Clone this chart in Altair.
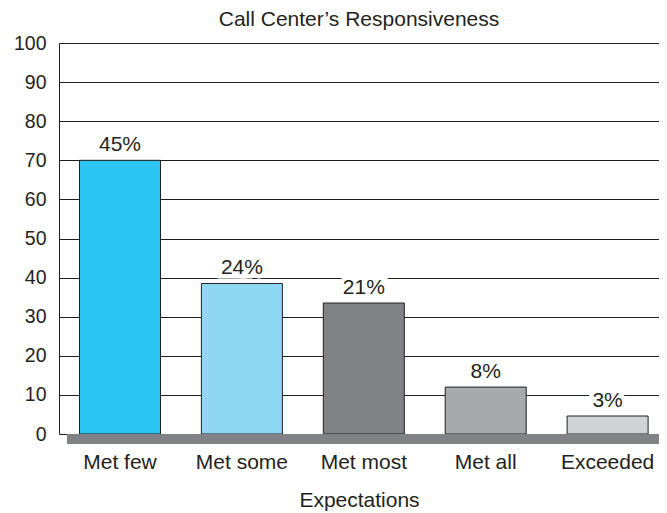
import altair as alt
import pandas as pd

categories = ["Met few", "Met some", "Met most", "Met all", "Exceeded"]
values = [70, 38.5, 33.5, 12, 4.6]
labels = ["45%", "24%", "21%", "8%", "3%"]
colors = ["#2BC4F3", "#8ED8F6", "#808285", "#A7A9AC", "#D1D3D4"]

df = pd.DataFrame({"cat": categories, "val": values, "lab": labels})

INK = "#231f20"
FONT = "Liberation Sans"

x = alt.X("cat:N", sort=categories, title="Expectations",
          scale=alt.Scale(paddingInner=0.3355, paddingOuter=0.1288, align=0.653),
          axis=alt.Axis(labelAngle=0, ticks=False, domain=False, labelPadding=17,
                        labelFontSize=21, labelColor=INK, labelFont=FONT,
                        titleFontSize=21, titleFont=FONT, titleColor=INK,
                        titleFontWeight="normal", titlePadding=17))
y = alt.Y("val:Q", title=None,
          scale=alt.Scale(domain=[0, 100], nice=False),
          axis=alt.Axis(values=list(range(0, 101, 10)), ticks=False, grid=True,
                        gridColor=INK, gridWidth=1, gridOpacity=1,
                        domain=True, domainColor=INK, domainWidth=1,
                        labelOverlap=False,
                        labelFontSize=19.5, labelColor=INK, labelFont=FONT,
                        labelPadding=13))

base = alt.Chart(df)

bars = base.mark_bar(stroke=INK, strokeWidth=1).encode(
    x=x, y=y,
    color=alt.Color("cat:N", sort=categories,
                    scale=alt.Scale(domain=categories, range=colors), legend=None),
)

floor = base.mark_rect(color="#808285").encode(
    x=alt.value(8), x2=alt.value(600), y=alt.value(391), y2=alt.value(401)
)

halo = base.mark_text(baseline="alphabetic", dy=-9, fontSize=21, font=FONT,
                      color="white", stroke="white", strokeWidth=9).encode(
    x=x, y=y, text="lab:N")
text = base.mark_text(baseline="alphabetic", dy=-9, fontSize=21, font=FONT,
                      color=INK).encode(
    x=x, y=y, text="lab:N")

chart = alt.layer(bars, floor, halo, text).properties(
    width=600, height=391,
    autosize=alt.AutoSizeParams(type="none"),
    padding={"left": 51, "top": 35, "right": 0, "bottom": 78},
    title=alt.Title("Call Center\u2019s Responsiveness", fontSize=21, font=FONT,
                    fontWeight="normal", color=INK, offset=3, anchor="middle"),
).configure_view(stroke=None).configure(background="white")

chart.save("out.html", embed_options={"renderer": "svg", "actions": False})
